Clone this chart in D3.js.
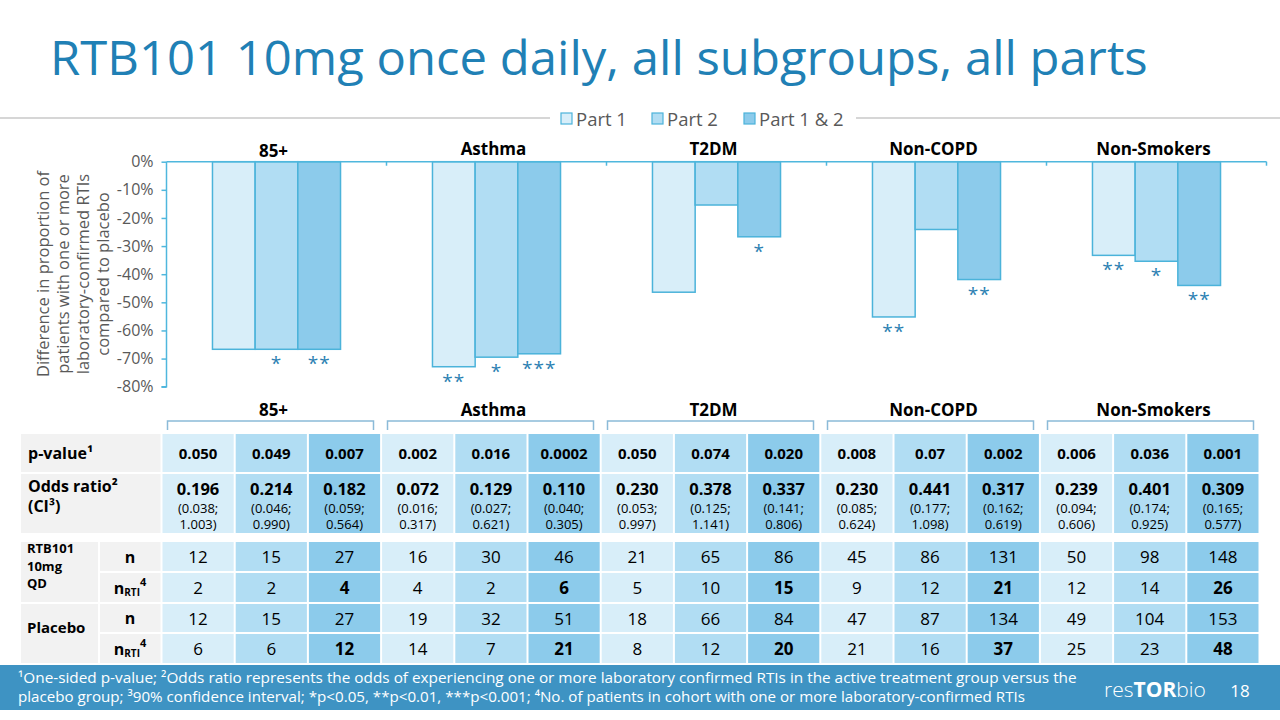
<!DOCTYPE html>
<html><head><meta charset="utf-8">
<script src="https://cdn.jsdelivr.net/npm/d3@7"></script>
<style>
body{margin:0;background:#fff;}
svg{display:block;font-family:"Open Sans",sans-serif;}
</style>
</head><body>
<svg id="c" width="1280" height="720"></svg>
<script>
// ---------- DATA ----------
const categories = ["85+", "Asthma", "T2DM", "Non-COPD", "Non-Smokers"];
const series = ["Part 1", "Part 2", "Part 1 & 2"];
const part1 = [-66.7, -72.9, -46.4, -55.2, -33.3];
const part2 = [-66.7, -69.5, -15.4, -24.1, -35.4];
const part12 = [-66.7, -68.3, -26.7, -41.9, -44.0];
const sig1 = ["", "**", "", "**", "**"];
const sig2 = ["*", "*", "", "", "*"];
const sig12 = ["**", "***", "*", "**", "**"];
const yTicks = [0, -10, -20, -30, -40, -50, -60, -70, -80];
const yTitle = ["Difference in proportion of", "patients with one or more", "laboratory-confirmed RTIs", "compared to placebo"];

const pValues = ["0.050","0.049","0.007","0.002","0.016","0.0002","0.050","0.074","0.020","0.008","0.07","0.002","0.006","0.036","0.001"];
const oddsRatio = ["0.196","0.214","0.182","0.072","0.129","0.110","0.230","0.378","0.337","0.230","0.441","0.317","0.239","0.401","0.309"];
const ciLow = ["(0.038;","(0.046;","(0.059;","(0.016;","(0.027;","(0.040;","(0.053;","(0.125;","(0.141;","(0.085;","(0.177;","(0.162;","(0.094;","(0.174;","(0.165;"];
const ciHigh = ["1.003)","0.990)","0.564)","0.317)","0.621)","0.305)","0.997)","1.141)","0.806)","0.624)","1.098)","0.619)","0.606)","0.925)","0.577)"];
const rtbN = [12,15,27,16,30,46,21,65,86,45,86,131,50,98,148];
const rtbNrti = [2,2,4,4,2,6,5,10,15,9,12,21,12,14,26];
const plaN = [12,15,27,19,32,51,18,66,84,47,87,134,49,104,153];
const plaNrti = [6,6,12,14,7,21,8,12,20,21,16,37,25,23,48];

const titleText = "RTB101 10mg once daily, all subgroups, all parts";
const footer1 = "¹One-sided p-value; ²Odds ratio represents the odds of experiencing one or more laboratory confirmed RTIs in the active treatment group versus the";
const footer2 = "placebo group; ³90% confidence interval; *p<0.05, **p<0.01, ***p<0.001; ⁴No. of patients in cohort with one or more laboratory-confirmed RTIs";

// ---------- STYLE ----------
const fills = ["#d8eef9", "#b1ddf3", "#8ccbeb"];
const barStroke = "#4bb3da";
const axisColor = "#4fb7dd";
const grayText = "#595959";
const starColor = "#2b7fb2";

const svg = d3.select("#c");

function fitWidth(sel, target) {
  const w = sel.node().getComputedTextLength();
  const x = +sel.attr("x"), y = +sel.attr("y");
  const k = target / w;
  sel.attr("transform", `translate(${x},${y}) scale(${k},1) translate(${-x},${-y})`);
}

// ---------- TITLE ----------
const title = svg.append("text").attr("x", 50).attr("y", 75)
  .attr("font-size", 47).attr("fill", "#2080b5").text(titleText);
fitWidth(title, 1098);

// ---------- LEGEND ----------
svg.append("line").attr("x1", 0).attr("x2", 550).attr("y1", 118).attr("y2", 118).attr("stroke", "#c8c8c8").attr("stroke-width", 1.5);
svg.append("line").attr("x1", 856).attr("x2", 1280).attr("y1", 118).attr("y2", 118).attr("stroke", "#c8c8c8").attr("stroke-width", 1.5);
const legX = [561, 652, 744];
series.forEach((s, i) => {
  const g = svg.append("g").attr("transform", `translate(${legX[i]},0)`);
  g.append("rect").attr("x", 0).attr("y", 113).attr("width", 11).attr("height", 11)
    .attr("fill", fills[i]).attr("stroke", barStroke).attr("stroke-width", 1.2);
  g.append("text").attr("x", 15).attr("y", 125.5).attr("font-size", 18.5).attr("fill", grayText).text(s);
});

// ---------- CHART ----------
const x0 = d3.scaleBand().domain(categories).range([166.5, 1266.5]);
const bw = x0.bandwidth();
const x1 = d3.scaleBand().domain(series).range([bw * 0.209, bw * 0.791]);
const y = d3.scaleLinear().domain([-80, 0]).range([386.7, 161.7]);

const values = [part1, part2, part12];
const sigs = [sig1, sig2, sig12];
const barData = [];
categories.forEach((c, ci) => series.forEach((s, si) => barData.push({c, s, si, v: values[si][ci], sig: sigs[si][ci]})));

svg.append("g").selectAll("rect").data(barData).join("rect")
  .attr("x", d => x0(d.c) + x1(d.s))
  .attr("y", y(0))
  .attr("width", x1.bandwidth())
  .attr("height", d => y(d.v) - y(0))
  .attr("fill", d => fills[d.si])
  .attr("stroke", barStroke).attr("stroke-width", 1.5);

svg.append("g").selectAll("text").data(barData.filter(d => d.sig)).join("text")
  .attr("x", d => x0(d.c) + x1(d.s) + x1.bandwidth() / 2)
  .attr("y", d => y(d.v) + 21)
  .attr("text-anchor", "middle").attr("font-size", 19).attr("letter-spacing", 1)
  .attr("fill", starColor).text(d => d.sig);

// y axis
const yAxis = svg.append("g").attr("transform", "translate(166.5,0)")
  .call(d3.axisLeft(y).tickValues(yTicks).tickFormat(d => d + "%").tickSize(5).tickPadding(8));
yAxis.selectAll("path,line").attr("stroke", axisColor).attr("stroke-width", 1.5);
yAxis.select(".domain").attr("d", `M-5,${y(-80)}H0V${y(0)}`);
yAxis.selectAll("text").attr("font-size", 16).attr("fill", grayText).attr("font-family", "Open Sans");

// x axis (at 0)
svg.append("line").attr("x1", 166.5).attr("x2", 1266.5).attr("y1", y(0)).attr("y2", y(0))
  .attr("stroke", axisColor).attr("stroke-width", 1.5);
svg.append("g").selectAll("line").data(categories).join("line")
  .attr("x1", c => x0(c) + bw).attr("x2", c => x0(c) + bw)
  .attr("y1", y(0)).attr("y2", y(0) + 4).attr("stroke", axisColor).attr("stroke-width", 1.5);

// category labels above bars
svg.append("g").selectAll("text").data(categories).join("text")
  .attr("x", c => x0(c) + bw / 2 - 3).attr("y", (c, i) => i === 0 ? 157 : 155)
  .attr("text-anchor", "middle").attr("font-size", 17).attr("font-weight", "bold")
  .attr("fill", "#000").text(c => c);

// y title
yTitle.forEach((t, i) => {
  svg.append("text").attr("transform", `translate(${42 + i * 20},274) rotate(-90)`)
    .attr("text-anchor", "middle").attr("font-size", 16.5).attr("fill", grayText)
    .attr("dominant-baseline", "central").text(t);
});

// ---------- TABLE HEADERS ----------
svg.append("g").selectAll("text").data(categories).join("text")
  .attr("x", c => x0(c) + bw / 2 - 3).attr("y", 416)
  .attr("text-anchor", "middle").attr("font-size", 17).attr("font-weight", "bold")
  .attr("fill", "#000").text(c => c);
svg.append("g").selectAll("path").data(categories).join("path")
  .attr("d", c => `M${x0(c) + 1},430V421H${x0(c) + 207}V430`)
  .attr("fill", "none").attr("stroke", "#8bbad8").attr("stroke-width", 1.5);

// ---------- TABLE ----------
const col = d3.scaleBand().domain(d3.range(15)).range([161.5, 1259.5]);
const cw = col.bandwidth();
const cols = d3.range(15);
const labelFill = "#f2f2f2";

function cellRow(top, h) {
  svg.append("g").selectAll("rect").data(cols).join("rect")
    .attr("x", i => col(i) + 1).attr("y", top).attr("width", cw - 2).attr("height", h)
    .attr("fill", i => fills[i % 3]);
}
function textRow(arr, cy, size, weightFn) {
  svg.append("g").selectAll("text").data(cols).join("text")
    .attr("x", i => col(i) + cw / 2).attr("y", cy)
    .attr("text-anchor", "middle").attr("dominant-baseline", "central")
    .attr("font-size", size).attr("font-weight", weightFn)
    .attr("fill", "#000").text(i => arr[i]);
}

// upper table
svg.append("rect").attr("x", 21).attr("y", 434).attr("width", 139.5).attr("height", 38).attr("fill", labelFill);
svg.append("rect").attr("x", 21).attr("y", 474).attr("width", 139.5).attr("height", 59).attr("fill", labelFill);
cellRow(434, 38);
cellRow(474, 59);
textRow(pValues, 453, 15, () => "bold");
textRow(oddsRatio, 488, 16.5, () => "bold");
textRow(ciLow, 507.5, 13, () => "normal");
textRow(ciHigh, 523.5, 13, () => "normal");

svg.append("text").attr("x", 28).attr("y", 453).attr("dominant-baseline", "central")
  .attr("font-size", 16).attr("font-weight", "bold").text("p-value¹");
svg.append("text").attr("x", 28).attr("y", 486).attr("dominant-baseline", "central")
  .attr("font-size", 16).attr("font-weight", "bold").text("Odds ratio²");
svg.append("text").attr("x", 28).attr("y", 506).attr("dominant-baseline", "central")
  .attr("font-size", 16).attr("font-weight", "bold").text("(CI³)");

// lower table
const rowTops = [542, 573, 604, 634];
const rowH = [29, 29, 28, 29];
svg.append("rect").attr("x", 21).attr("y", 542).attr("width", 77).attr("height", 60).attr("fill", labelFill);
svg.append("rect").attr("x", 21).attr("y", 604).attr("width", 77).attr("height", 59).attr("fill", labelFill);
rowTops.forEach((t, r) => {
  svg.append("rect").attr("x", 100).attr("y", t).attr("width", 60.5).attr("height", rowH[r]).attr("fill", labelFill);
  cellRow(t, rowH[r]);
});
const lowerRows = [rtbN, rtbNrti, plaN, plaNrti];
lowerRows.forEach((arr, r) => {
  textRow(arr, rowTops[r] + rowH[r] / 2, 17, i => (r % 2 === 1 && i % 3 === 2) ? "bold" : "normal");
  const lbl = svg.append("text").attr("x", 130).attr("y", rowTops[r] + rowH[r] / 2)
    .attr("text-anchor", "middle").attr("dominant-baseline", "central")
    .attr("font-size", 16).attr("font-weight", "bold");
  if (r % 2 === 0) lbl.text("n");
  else {
    lbl.append("tspan").text("n");
    lbl.append("tspan").attr("font-size", 10).attr("dy", 4).text("RTI");
    lbl.append("tspan").attr("font-size", 11).attr("dy", -11).text("4");
  }
});
["RTB101", "10mg", "QD"].forEach((t, i) => {
  svg.append("text").attr("x", 27).attr("y", 548 + i * 17.5).attr("dominant-baseline", "central")
    .attr("font-size", 13).attr("font-weight", "bold").text(t);
});
svg.append("text").attr("x", 27).attr("y", 627).attr("dominant-baseline", "central")
  .attr("font-size", 15).attr("font-weight", "bold").text("Placebo");

// ---------- FOOTER ----------
svg.append("rect").attr("x", 0).attr("y", 665).attr("width", 1280).attr("height", 45).attr("fill", "#3e93c3");
const f1 = svg.append("text").attr("x", 18).attr("y", 683).attr("font-size", 15).attr("fill", "#fff").text(footer1);
fitWidth(f1, 1060);
const f2 = svg.append("text").attr("x", 18).attr("y", 702).attr("font-size", 15).attr("fill", "#fff").text(footer2);
fitWidth(f2, 1008);
const logo = svg.append("text").attr("x", 1155).attr("y", 697).attr("text-anchor", "middle")
  .attr("font-size", 21).attr("fill", "#fff");
logo.append("tspan").attr("font-weight", 300).text("res");
logo.append("tspan").attr("font-weight", "bold").text("TOR");
logo.append("tspan").attr("font-weight", 300).text("bio");
svg.append("text").attr("x", 1240).attr("y", 697).attr("text-anchor", "middle")
  .attr("font-size", 17).attr("fill", "#fff").text("18");
</script>
</body></html>
